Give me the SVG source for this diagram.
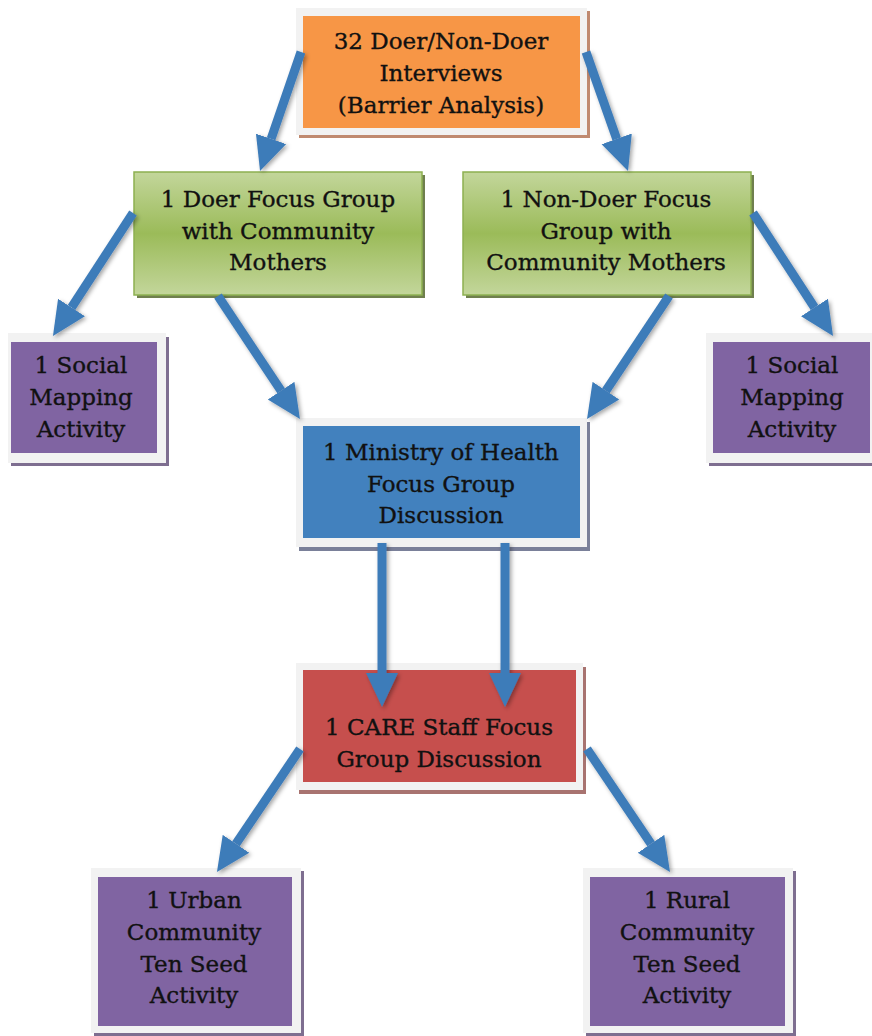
<svg xmlns="http://www.w3.org/2000/svg" width="872" height="1036" viewBox="0 0 872 1036">
<style>
.t{font-family:"DejaVu Serif","Liberation Serif",serif;font-size:23px;fill:#111;stroke:#111;stroke-width:0.35;text-anchor:middle}
.frame{fill:#f2f2f2}
.conn{stroke:#3d7bb9;stroke-width:9;fill:none;marker-end:url(#ah)}
</style>
<defs>
<marker id="ah" viewBox="0 -17 35 34" refX="0" refY="0" markerWidth="35" markerHeight="34" markerUnits="userSpaceOnUse" orient="auto">
<path d="M0,-16 L34,0 L0,16 z" fill="#3d7bb9"/>
</marker>
<linearGradient id="gg" x1="0" y1="0" x2="0" y2="1">
<stop offset="0" stop-color="#c3d69b"/>
<stop offset="0.5" stop-color="#9bbb59"/>
<stop offset="1" stop-color="#c3d69b"/>
</linearGradient>
<filter id="sh" x="-20%" y="-20%" width="140%" height="140%">
<feDropShadow dx="2" dy="2" stdDeviation="2" flood-color="#000" flood-opacity="0.35"/>
</filter>
</defs>
<rect width="872" height="1036" fill="#fff"/>

<g id="n-interviews">
<rect x="299" y="11" width="291" height="127" fill="#c08a70"/>
<rect class="frame" x="296" y="8" width="291" height="127"/>
<rect x="303" y="16" width="277" height="112" fill="#f79646"/>
<text class="t" x="441" y="49">32 Doer/Non-Doer</text>
<text class="t" x="441" y="81">Interviews</text>
<text class="t" x="441" y="113">(Barrier Analysis)</text>
</g>

<g id="n-doer-fg">
<rect x="137" y="175" width="288" height="123" fill="#6f7f4e"/>
<rect x="134" y="172" width="288" height="123" fill="url(#gg)" stroke="#8db050" stroke-width="1.5"/>
<text class="t" x="278" y="207">1 Doer Focus Group</text>
<text class="t" x="278" y="239">with Community</text>
<text class="t" x="278" y="270">Mothers</text>
</g>

<g id="n-nondoer-fg">
<rect x="466" y="175" width="288" height="123" fill="#6f7f4e"/>
<rect x="463" y="172" width="288" height="123" fill="url(#gg)" stroke="#8db050" stroke-width="1.5"/>
<text class="t" x="606" y="207">1 Non-Doer Focus</text>
<text class="t" x="606" y="239">Group with</text>
<text class="t" x="606" y="270">Community Mothers</text>
</g>

<g id="n-social-left">
<rect x="11" y="337" width="158" height="129" fill="#7e6e90"/>
<rect class="frame" x="8" y="333" width="158" height="130"/>
<rect x="11" y="342" width="146" height="111" fill="#8064a2"/>
<text class="t" x="81" y="373">1 Social</text>
<text class="t" x="81" y="405">Mapping</text>
<text class="t" x="81" y="437">Activity</text>
</g>

<g id="n-social-right">
<rect x="709" y="337" width="170" height="129" fill="#7e6e90"/>
<rect class="frame" x="706" y="333" width="170" height="130"/>
<rect x="713" y="342" width="157" height="111" fill="#8064a2"/>
<text class="t" x="792" y="373">1 Social</text>
<text class="t" x="792" y="405">Mapping</text>
<text class="t" x="792" y="437">Activity</text>
</g>

<g id="n-moh">
<rect x="299" y="422" width="291" height="129" fill="#7a8099"/>
<rect class="frame" x="296" y="418" width="291" height="129"/>
<rect x="303" y="426" width="277" height="112" fill="#4281be"/>
<text class="t" x="441" y="460">1 Ministry of Health</text>
<text class="t" x="441" y="492">Focus Group</text>
<text class="t" x="441" y="523">Discussion</text>
</g>

<g id="n-care">
<rect x="299" y="667" width="287" height="127" fill="#a87370"/>
<rect class="frame" x="296" y="663" width="287" height="127"/>
<rect x="303" y="670" width="273" height="112" fill="#c64f4d"/>
<text class="t" x="439" y="735">1 CARE Staff Focus</text>
<text class="t" x="439" y="767">Group Discussion</text>
</g>

<g id="n-urban">
<rect x="94" y="871" width="210" height="165" fill="#7e6e90"/>
<rect class="frame" x="91" y="868" width="210" height="165"/>
<rect x="98" y="877" width="194" height="149" fill="#8064a2"/>
<text class="t" x="194" y="908">1 Urban</text>
<text class="t" x="194" y="940">Community</text>
<text class="t" x="194" y="972">Ten Seed</text>
<text class="t" x="194" y="1003">Activity</text>
</g>

<g id="n-rural">
<rect x="586" y="871" width="210" height="165" fill="#7e6e90"/>
<rect class="frame" x="583" y="868" width="210" height="165"/>
<rect x="590" y="877" width="195" height="149" fill="#8064a2"/>
<text class="t" x="687" y="908">1 Rural</text>
<text class="t" x="687" y="940">Community</text>
<text class="t" x="687" y="972">Ten Seed</text>
<text class="t" x="687" y="1003">Activity</text>
</g>

<g id="connectors" filter="url(#sh)">
<line class="conn" x1="301" y1="52" x2="271.1" y2="138.9"/>
<line class="conn" x1="586" y1="52" x2="616.7" y2="138.9"/>
<line class="conn" x1="133" y1="213" x2="71.5" y2="307.5"/>
<line class="conn" x1="218" y1="296" x2="281.1" y2="390.7"/>
<line class="conn" x1="669" y1="296" x2="605.9" y2="390.7"/>
<line class="conn" x1="753" y1="213" x2="814.5" y2="307.5"/>
<line class="conn" x1="382" y1="543" x2="382" y2="673"/>
<line class="conn" x1="505" y1="543" x2="505" y2="673"/>
<line class="conn" x1="300" y1="749" x2="236" y2="843.8"/>
<line class="conn" x1="587" y1="749" x2="651" y2="843.8"/>
</g>
</svg>
